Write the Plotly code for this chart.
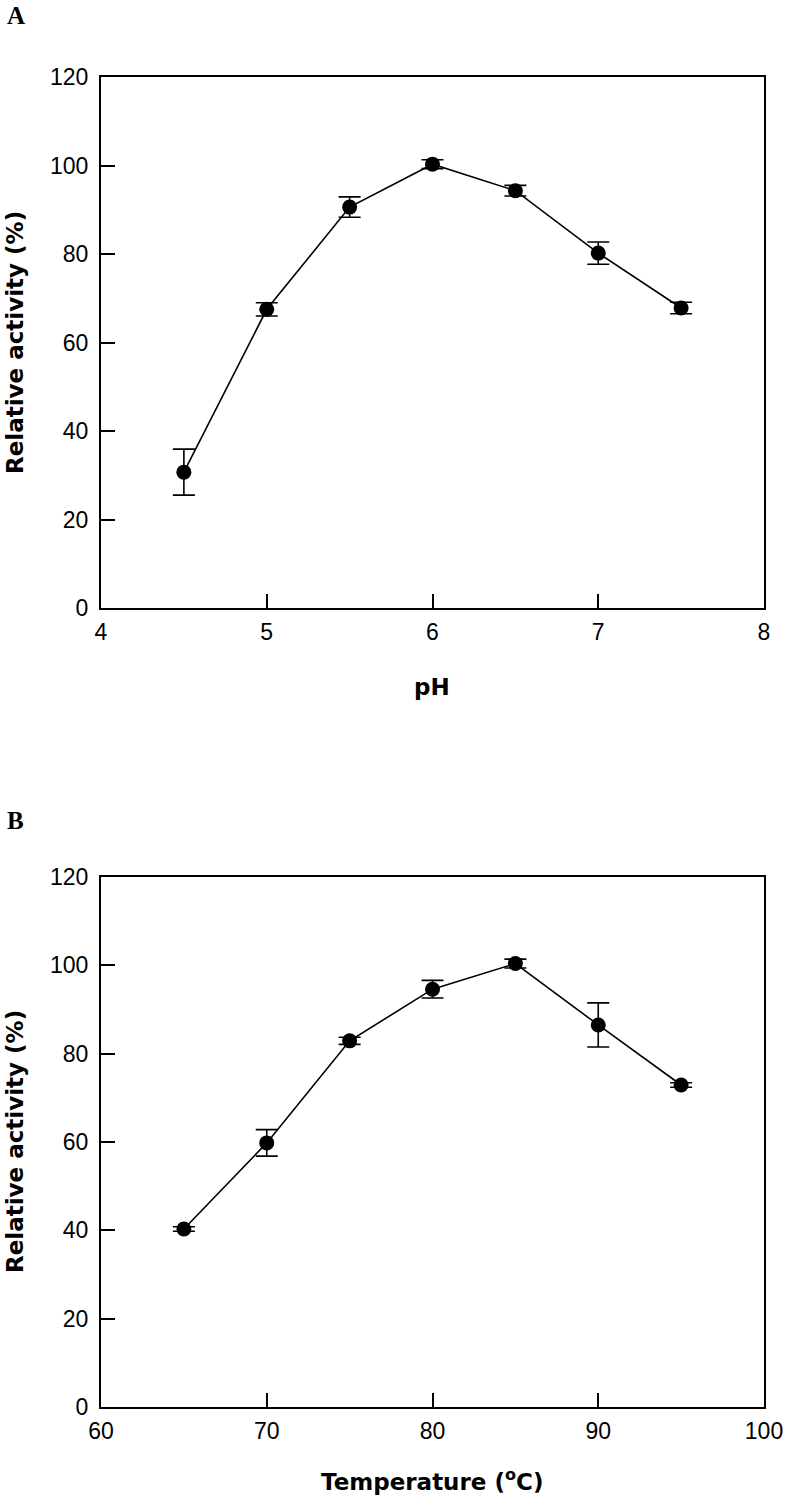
import plotly.graph_objects as go

# Panel A: pH
ph = [4.5, 5.0, 5.5, 6.0, 6.5, 7.0, 7.5]
ph_activity = [30.7, 67.5, 90.6, 100.3, 94.3, 80.2, 67.8]
ph_err = [5.2, 1.5, 2.3, 1.0, 1.2, 2.5, 1.3]

# Panel B: temperature
temp = [65, 70, 75, 80, 85, 90, 95]
temp_activity = [40.3, 59.8, 82.9, 94.6, 100.4, 86.5, 72.9]
temp_err = [0.5, 3.0, 0.8, 2.0, 1.0, 5.0, 0.5]

y_ticks = [0, 20, 40, 60, 80, 100, 120]
ph_ticks = [4, 5, 6, 7, 8]
temp_ticks = [60, 70, 80, 90, 100]

W, H = 788, 1502

def fx(px):
    return px / W

def fy(py):
    return 1 - py / H

xdom = [fx(101), fx(764)]
ydomA = [fy(608), fy(77)]
ydomB = [fy(1407), fy(877)]

fig = go.Figure()

def add_series(x, y, e, xa, ya):
    fig.add_trace(go.Scatter(
        x=x, y=y, xaxis=xa, yaxis=ya, mode="lines+markers",
        line=dict(color="black", width=1.6),
        marker=dict(color="black", size=15, symbol="circle"),
        error_y=dict(type="data", array=e, visible=True, color="black",
                     thickness=1.6, width=11),
        showlegend=False, cliponaxis=False, hoverinfo="skip",
    ))

add_series(ph, ph_activity, ph_err, "x", "y")
add_series(temp, temp_activity, temp_err, "x2", "y2")

tick_font = dict(family="Liberation Sans", size=23, color="black")
axis_common = dict(showline=True, linecolor="black", linewidth=2, mirror=True,
                   ticks="inside", ticklen=14, tickwidth=2, tickcolor="black",
                   showgrid=False, zeroline=False, tickfont=tick_font,
                   automargin=False)

fig.update_layout(
    width=W, height=H, autosize=False,
    margin=dict(l=0, r=0, t=0, b=0, pad=0, autoexpand=False),
    paper_bgcolor="white", plot_bgcolor="white",
    xaxis=dict(domain=xdom, range=[4, 8], tickvals=ph_ticks, anchor="y",
               ticklabelstandoff=2, **axis_common),
    yaxis=dict(domain=ydomA, range=[0, 120], tickvals=y_ticks, anchor="x",
               ticklabelstandoff=6, **axis_common),
    xaxis2=dict(domain=xdom, range=[60, 100], tickvals=temp_ticks, anchor="y2",
                ticklabelstandoff=2, **axis_common),
    yaxis2=dict(domain=ydomB, range=[0, 120], tickvals=y_ticks, anchor="x2",
                ticklabelstandoff=6, **axis_common),
)

title_font = dict(family="DejaVu Sans", size=23, color="black")
label_font = dict(family="Liberation Serif", size=25, color="black")

def ann(text, px, py, font, angle=0):
    fig.add_annotation(text=text, x=fx(px), y=fy(py), xref="paper", yref="paper",
                       showarrow=False, font=font, textangle=angle,
                       xanchor="center", yanchor="middle")

ann("<b>A</b>", 16, 16, label_font)
ann("<b>B</b>", 15, 820, label_font)
ann("<b>Relative activity (%)</b>", 15, 343, title_font, -90)
ann("<b>Relative activity (%)</b>", 15, 1142, title_font, -90)
ann("<b>pH</b>", 432, 687, title_font)
ann("<b>Temperature (<sup>o</sup>C)</b>", 432, 1480, title_font)

fig.write_html(
    "out.html",
    config={"displayModeBar": False},
    post_script="document.body.style.margin='0';document.body.style.padding='0';",
)
